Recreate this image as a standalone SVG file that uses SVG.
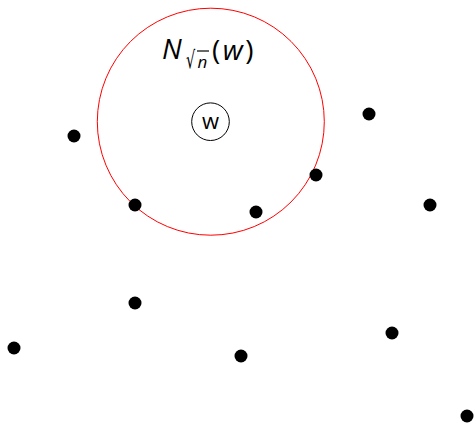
<svg xmlns="http://www.w3.org/2000/svg" width="474" height="425" viewBox="0 0 474 425">
<style>
.dot{fill:#000}
.lbl{font-family:"Open Sans","DejaVu Sans",sans-serif;fill:#000}
.it{font-style:italic}
</style>
<rect width="474" height="425" fill="#fff"/>
<g id="neighborhood">
<circle cx="210.8" cy="121.7" r="113.5" fill="none" stroke="#ff0000" stroke-width="1"/>
<text class="lbl it" x="162" y="59" font-size="28">N</text>
<text transform="translate(186,68) scale(0.6,1)" x="0" y="0" font-size="24" font-family="DejaVu Sans,sans-serif">√</text>
<line x1="197" y1="51" x2="209" y2="51" stroke="#000" stroke-width="1.2"/>
<text class="lbl it" x="197.5" y="68" font-size="17">n</text>
<text class="lbl" x="212" y="60" font-size="28" letter-spacing="2.5">(<tspan class="it">w</tspan>)</text>
</g>
<g id="w">
<circle cx="210.5" cy="121.7" r="18.8" fill="#fff" stroke="#000" stroke-width="1"/>
<text x="210.5" y="128.5" font-family="Open Sans,sans-serif" font-size="22" text-anchor="middle">w</text>
</g>
<g id="points">
<circle class="dot" cx="74" cy="136" r="6.5"/>
<circle class="dot" cx="369" cy="114" r="6.5"/>
<circle class="dot" cx="316" cy="175" r="6.5"/>
<circle class="dot" cx="135" cy="205" r="6.5"/>
<circle class="dot" cx="256" cy="212" r="6.5"/>
<circle class="dot" cx="430" cy="205" r="6.5"/>
<circle class="dot" cx="135" cy="303" r="6.5"/>
<circle class="dot" cx="14" cy="348" r="6.5"/>
<circle class="dot" cx="241" cy="356" r="6.5"/>
<circle class="dot" cx="392" cy="333" r="6.5"/>
<circle class="dot" cx="467" cy="416" r="6.5"/>
</g>
<g id="connectors"/>
</svg>
